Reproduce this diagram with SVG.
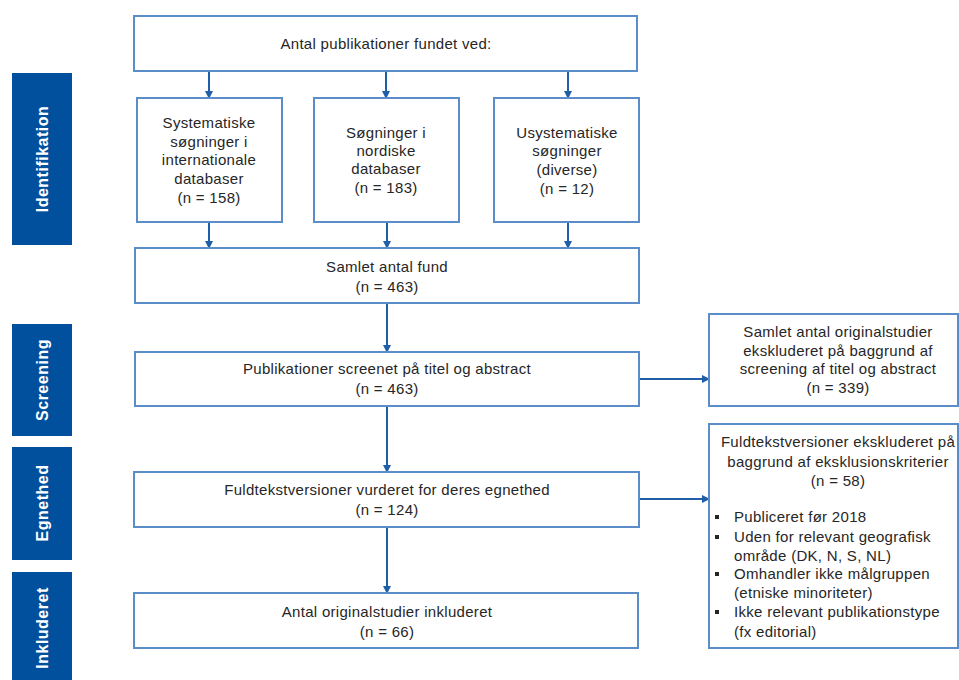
<svg xmlns="http://www.w3.org/2000/svg" width="959" height="680" viewBox="0 0 959 680">
<defs>
<style>
.box{fill:#fff;stroke:#5b8ec8;stroke-width:2}
.side{fill:#00509e}
.t{font-family:"Liberation Sans",Arial,sans-serif;font-size:15px;fill:#262626;letter-spacing:0.3px;text-anchor:middle}
.tl{text-anchor:start}
.s{font-family:"Liberation Sans",Arial,sans-serif;font-size:16px;font-weight:bold;fill:#fff;letter-spacing:0.5px;text-anchor:middle}
.c{stroke:#1f5fa8;stroke-width:2;fill:none}
.b{fill:#262626}
</style>
<marker id="ah" markerWidth="8" markerHeight="8" refX="7" refY="4" orient="auto" markerUnits="userSpaceOnUse">
<path d="M0,0 L8,4 L0,8 Z" fill="#1f5fa8"/>
</marker>
</defs>
<rect width="959" height="680" fill="#fff"/>
<g id="side-identifikation"><rect class="side" x="12" y="73" width="60" height="172"/><text class="s" transform="translate(48,159) rotate(-90)">Identifikation</text></g>
<g id="side-screening"><rect class="side" x="12" y="324" width="60" height="112"/><text class="s" transform="translate(48,380) rotate(-90)">Screening</text></g>
<g id="side-egnethed"><rect class="side" x="12" y="447" width="60" height="113"/><text class="s" transform="translate(48,503) rotate(-90)">Egnethed</text></g>
<g id="side-inkluderet"><rect class="side" x="12" y="572" width="60" height="120"/><text class="s" transform="translate(48,628) rotate(-90)">Inkluderet</text></g>

<g id="connectors">
<line class="c" x1="209" y1="71" x2="209" y2="98" marker-end="url(#ah)"/>
<line class="c" x1="386" y1="71" x2="386" y2="98" marker-end="url(#ah)"/>
<line class="c" x1="568" y1="71" x2="568" y2="98" marker-end="url(#ah)"/>
<line class="c" x1="209" y1="222" x2="209" y2="248" marker-end="url(#ah)"/>
<line class="c" x1="387" y1="222" x2="387" y2="248" marker-end="url(#ah)"/>
<line class="c" x1="568" y1="222" x2="568" y2="248" marker-end="url(#ah)"/>
<line class="c" x1="387" y1="303" x2="387" y2="352" marker-end="url(#ah)"/>
<line class="c" x1="639" y1="379" x2="709" y2="379" marker-end="url(#ah)"/>
<line class="c" x1="387" y1="406" x2="387" y2="472" marker-end="url(#ah)"/>
<line class="c" x1="639" y1="499" x2="709" y2="499" marker-end="url(#ah)"/>
<line class="c" x1="387" y1="527" x2="387" y2="593" marker-end="url(#ah)"/>
</g>

<g id="n-top"><rect class="box" x="134" y="16" width="503" height="55"/><text class="t" x="386" y="49">Antal publikationer fundet ved:</text></g>
<g id="n-sys"><rect class="box" x="137" y="98" width="145" height="124"/>
<text class="t" x="209" y="128">Systematiske</text><text class="t" x="209" y="147">søgninger i</text><text class="t" x="209" y="165">internationale</text><text class="t" x="209" y="184">databaser</text><text class="t" x="209" y="203">(n = 158)</text></g>
<g id="n-nord"><rect class="box" x="314" y="98" width="145" height="124"/>
<text class="t" x="386" y="138">Søgninger i</text><text class="t" x="386" y="156">nordiske</text><text class="t" x="386" y="174">databaser</text><text class="t" x="386" y="193">(n = 183)</text></g>
<g id="n-usys"><rect class="box" x="494" y="98" width="145" height="124"/>
<text class="t" x="567" y="138">Usystematiske</text><text class="t" x="567" y="156">søgninger</text><text class="t" x="567" y="175">(diverse)</text><text class="t" x="567" y="194">(n = 12)</text></g>
<g id="n-samlet"><rect class="box" x="135" y="248" width="504" height="55"/>
<text class="t" x="387" y="272">Samlet antal fund</text><text class="t" x="387" y="292">(n = 463)</text></g>
<g id="n-pub"><rect class="box" x="135" y="352" width="504" height="54"/>
<text class="t" x="387" y="374">Publikationer screenet på titel og abstract</text><text class="t" x="387" y="394">(n = 463)</text></g>
<g id="n-excl1"><rect class="box" x="709" y="314" width="249" height="92"/>
<text class="t" x="838" y="337">Samlet antal originalstudier</text><text class="t" x="838" y="356">ekskluderet på baggrund af</text><text class="t" x="838" y="374">screening af titel og abstract</text><text class="t" x="838" y="393">(n =  339)</text></g>
<g id="n-fuld"><rect class="box" x="134" y="472" width="505" height="55"/>
<text class="t" x="387" y="495">Fuldtekstversioner vurderet for deres egnethed</text><text class="t" x="387" y="515">(n = 124)</text></g>
<g id="n-antal"><rect class="box" x="134" y="593" width="504" height="55"/>
<text class="t" x="387" y="617">Antal originalstudier inkluderet</text><text class="t" x="387" y="637">(n =  66)</text></g>
<g id="n-excl2"><rect class="box" x="709" y="424" width="249" height="224"/>
<text class="t" x="838" y="447">Fuldtekstversioner ekskluderet på</text><text class="t" x="838" y="467">baggrund af eksklusionskriterier</text><text class="t" x="838" y="486">(n = 58)</text>
<rect class="b" x="715" y="515" width="4" height="4"/><rect class="b" x="715" y="535" width="4" height="4"/><rect class="b" x="715" y="572" width="4" height="4"/><rect class="b" x="715" y="610" width="4" height="4"/>
<text class="t tl" x="734" y="522">Publiceret før 2018</text><text class="t tl" x="734" y="542">Uden for relevant geografisk</text><text class="t tl" x="734" y="561">område (DK, N, S, NL)</text><text class="t tl" x="734" y="579">Omhandler ikke målgruppen</text><text class="t tl" x="734" y="598">(etniske minoriteter)</text><text class="t tl" x="734" y="617">Ikke relevant publikationstype</text><text class="t tl" x="734" y="637">(fx editorial)</text></g>
</svg>
